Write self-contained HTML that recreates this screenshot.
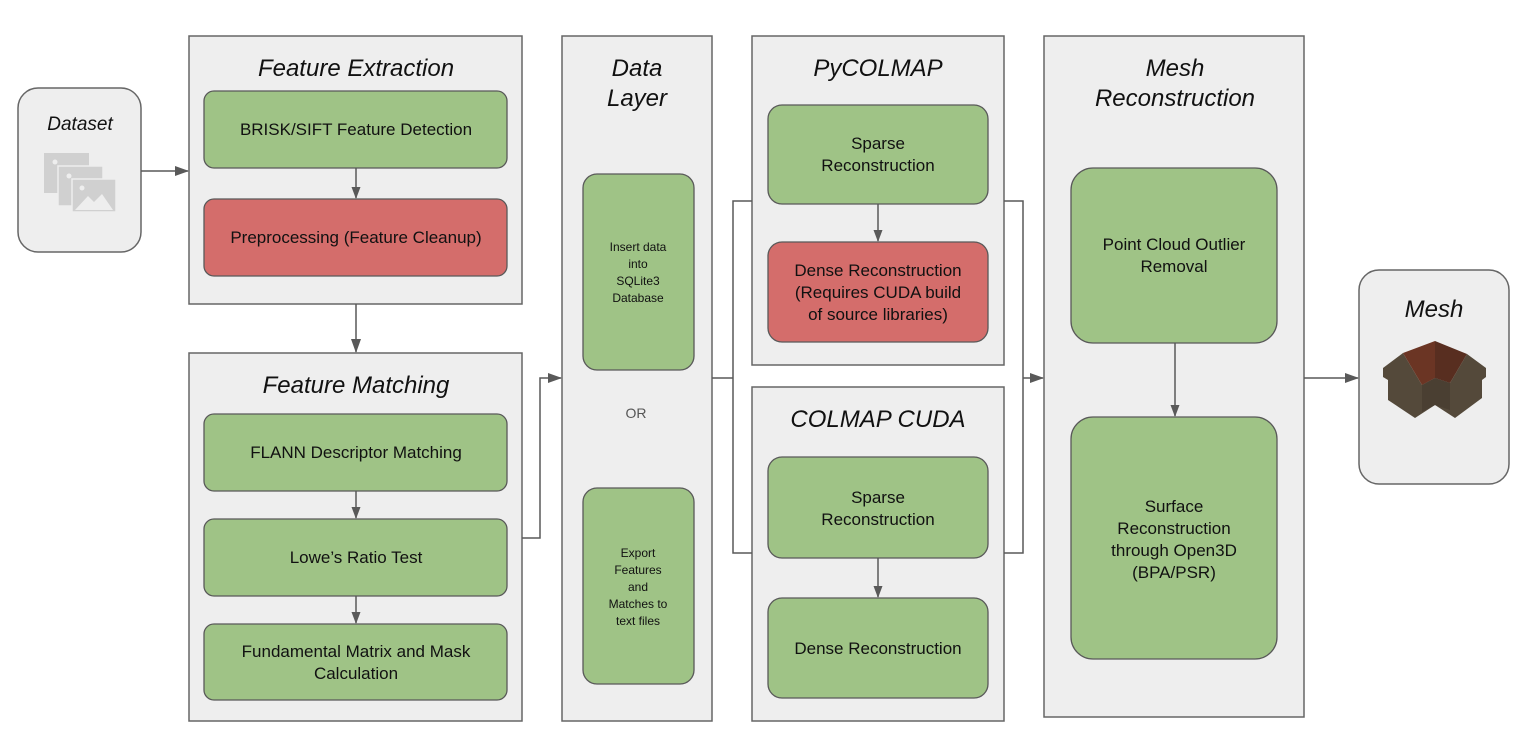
<!DOCTYPE html>
<html><head><meta charset="utf-8"><style>
body{margin:0;background:#fff}
svg text{font-family:"Liberation Sans",Arial,sans-serif;fill:#111}
.t{font-style:italic;font-size:24px}
.b{font-size:17px}
.s{font-size:12px}
</style></head><body>
<svg width="1534" height="748" viewBox="0 0 1534 748">
<defs><marker id="a" markerWidth="14" markerHeight="12" refX="13" refY="6" orient="auto" markerUnits="userSpaceOnUse"><path d="M0,1 L14,6 L0,11z" fill="#595959"/></marker>
<marker id="m" markerWidth="12" markerHeight="10" refX="11" refY="5" orient="auto" markerUnits="userSpaceOnUse"><path d="M0,0.5 L12,5 L0,9.5z" fill="#595959"/></marker></defs>
<g stroke="#666" stroke-width="1.5" fill="#eeeeee">
<rect x="18" y="88" width="123" height="164" rx="20"/>
<rect x="189" y="36" width="333" height="268"/>
<rect x="189" y="353" width="333" height="368"/>
<rect x="562" y="36" width="150" height="685"/>
<rect x="752" y="36" width="252" height="329"/>
<rect x="752" y="387" width="252" height="334"/>
<rect x="1044" y="36" width="260" height="681"/>
<rect x="1359" y="270" width="150" height="214" rx="20"/>
</g>
<g stroke="#595959" stroke-width="1.3">
<rect x="204" y="91" width="303" height="77" rx="10" fill="#9fc386"/>
<rect x="204" y="199" width="303" height="77" rx="10" fill="#d46d6b"/>
<rect x="204" y="414" width="303" height="77" rx="10" fill="#9fc386"/>
<rect x="204" y="519" width="303" height="77" rx="10" fill="#9fc386"/>
<rect x="204" y="624" width="303" height="76" rx="10" fill="#9fc386"/>
<rect x="583" y="174" width="111" height="196" rx="14" fill="#9fc386"/>
<rect x="583" y="488" width="111" height="196" rx="14" fill="#9fc386"/>
<rect x="768" y="105" width="220" height="99" rx="14" fill="#9fc386"/>
<rect x="768" y="242" width="220" height="100" rx="14" fill="#d46d6b"/>
<rect x="768" y="457" width="220" height="101" rx="14" fill="#9fc386"/>
<rect x="768" y="598" width="220" height="100" rx="14" fill="#9fc386"/>
<rect x="1071" y="168" width="206" height="175" rx="22" fill="#9fc386"/>
<rect x="1071" y="417" width="206" height="242" rx="22" fill="#9fc386"/>
</g>
<g stroke="#595959" stroke-width="1.5" fill="none">
<path d="M141 171H188" marker-end="url(#a)"/>
<path d="M356 304V352" marker-end="url(#a)"/>
<path d="M356 168V198" marker-end="url(#m)"/>
<path d="M356 491V518" marker-end="url(#m)"/>
<path d="M356 596V623" marker-end="url(#m)"/>
<path d="M878 204V241" marker-end="url(#m)"/>
<path d="M878 558V597" marker-end="url(#m)"/>
<path d="M1175 343V416" marker-end="url(#m)"/>
<path d="M522 538H540V378H561" marker-end="url(#a)"/>
<path d="M712 378H733M752 201H733V553H752"/>
<path d="M1004 201H1023V553H1004"/>
<path d="M1023 378H1043" marker-end="url(#a)"/>
<path d="M1304 378H1358" marker-end="url(#a)"/>
</g>
<g fill="#d0d0d0">
<rect x="44" y="153" width="45" height="40"/>
<rect x="58" y="166" width="45" height="40" stroke="#eee" stroke-width="1.5"/>
<rect x="72" y="179" width="44" height="33" stroke="#eee" stroke-width="1.5"/>
<path d="M75 210L88 196L94 202L102 194L113 210Z" fill="#eee"/>
<circle cx="82" cy="188" r="2.5" fill="#eee"/><circle cx="69" cy="176" r="2.5" fill="#eee"/><circle cx="55" cy="162" r="2.5" fill="#eee"/>
</g>
<g>
<path d="M1383 368L1403 353L1422 385L1435 378L1450 383L1467 354L1486 368V377L1482 380V398L1455 418L1435 405L1415 418L1388 400V380L1383 377Z" fill="#54493a"/>
<path d="M1403 353L1435 341L1435 378L1422 385Z" fill="#6b3524"/>
<path d="M1435 341L1467 354L1450 383L1435 378Z" fill="#582e20"/>
<path d="M1422 385L1435 378L1450 383V410L1435 405L1422 412Z" fill="#4a3f32"/>
</g>
<g text-anchor="middle">
<text class="t" x="80" y="130" style="font-size:19px">Dataset</text>
<text class="t" x="356" y="76">Feature Extraction</text>
<text class="t" x="356" y="393">Feature Matching</text>
<text class="t" x="637" y="76">Data</text><text class="t" x="637" y="106">Layer</text>
<text class="t" x="878" y="76">PyCOLMAP</text>
<text class="t" x="878" y="427">COLMAP CUDA</text>
<text class="t" x="1175" y="76">Mesh</text><text class="t" x="1175" y="106">Reconstruction</text>
<text class="t" x="1434" y="317">Mesh</text>
<text class="b" x="356" y="135">BRISK/SIFT Feature Detection</text>
<text class="b" x="356" y="243">Preprocessing (Feature Cleanup)</text>
<text class="b" x="356" y="458">FLANN Descriptor Matching</text>
<text class="b" x="356" y="563">Lowe’s Ratio Test</text>
<text class="b" x="356" y="657">Fundamental Matrix and Mask</text>
<text class="b" x="356" y="679">Calculation</text>
<text class="s" x="638" y="251">Insert data</text><text class="s" x="638" y="268">into</text><text class="s" x="638" y="285">SQLite3</text><text class="s" x="638" y="302">Database</text>
<text class="s" x="636" y="418" style="font-size:14px;fill:#555">OR</text>
<text class="s" x="638" y="557">Export</text><text class="s" x="638" y="574">Features</text><text class="s" x="638" y="591">and</text><text class="s" x="638" y="608">Matches to</text><text class="s" x="638" y="625">text files</text>
<text class="b" x="878" y="149">Sparse</text><text class="b" x="878" y="171">Reconstruction</text>
<text class="b" x="878" y="276">Dense Reconstruction</text><text class="b" x="878" y="298">(Requires CUDA build</text><text class="b" x="878" y="320">of source libraries)</text>
<text class="b" x="878" y="503">Sparse</text><text class="b" x="878" y="525">Reconstruction</text>
<text class="b" x="878" y="654">Dense Reconstruction</text>
<text class="b" x="1174" y="250">Point Cloud Outlier</text><text class="b" x="1174" y="272">Removal</text>
<text class="b" x="1174" y="512">Surface</text><text class="b" x="1174" y="534">Reconstruction</text><text class="b" x="1174" y="556">through Open3D</text><text class="b" x="1174" y="578">(BPA/PSR)</text>
</g>
</svg>
</body></html>
